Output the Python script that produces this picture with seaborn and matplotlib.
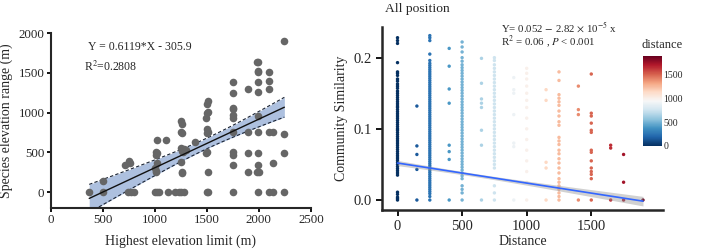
import numpy as np
import pandas as pd
import seaborn as sns
import matplotlib.pyplot as plt

# ---- left panel: highest elevation limit vs species elevation range ----
elev_limit = [370, 505, 505, 710, 755, 760, 740, 770, 800,
              1000, 1020, 1040, 1010, 1015, 1010, 1015, 1020, 1020, 1025, 1000,
              1105, 1130, 1190, 1230, 1280, 1250,
              1255, 1260, 1255, 1265, 1250, 1260, 1270, 1280, 1300, 1250, 1260, 1265, 1390,
              1500, 1515, 1510, 1495, 1505, 1500, 1510, 1505, 1500, 1510, 1515, 1505, 1490,
              1750, 1750, 1750, 1750, 1750, 1750, 1750, 1750, 1750, 1750, 1750,
              1895, 1895, 1895, 1895,
              1985, 1995, 1990, 1990, 1990, 1990, 1990, 1990, 1990, 1990, 1980, 2000, 1990,
              2100, 2100, 2100, 2100, 2100, 2133, 2133, 2133,
              2245, 2245, 2245, 2245]
elev_range = [0, 0, 140, 340, 390, 360, 0, 0, 0,
              0, 0, 0, 250, 270, 470, 500, 490, 360, 650, 300,
              650, 0, 0, 0, 0, 0,
              890, 860, 760, 740, 550, 520, 500, 540, 530, 380, 250, 240, 630,
              0, 0, 250, 490, 510, 740, 760, 790, 1000, 1010, 1140, 1110, 930,
              1390, 1250, 1060, 1040, 975, 935, 757, 500, 473, 347, 0,
              1297, 757, 494, 251,
              1640, 1640, 1525, 1505, 1380, 1260, 960, 757, 494, 347, 251, 251, 0,
              1505, 1400, 1297, 757, 0, 757, 0, 370,
              1895, 736, 494, 0]
fit_slope, fit_intercept = 0.6119, -305.9

# ---- right panel: distance vs community similarity ----
dist_levels = [0, 150, 250, 400, 500, 650, 750, 900, 1000, 1150, 1250, 1400, 1500, 1650, 1750, 1900]
sim_values = [
    [0.228, 0.224, 0.220, 0.193, 0.180, 0.178, 0.175, 0.170, 0.167, 0.163, 0.160, 0.157, 0.153,
     0.150, 0.147, 0.144, 0.141, 0.138, 0.135, 0.132, 0.130, 0.127, 0.124, 0.121, 0.118, 0.115,
     0.112, 0.109, 0.106, 0.103, 0.100, 0.098, 0.095, 0.092, 0.089, 0.086, 0.083, 0.080, 0.077,
     0.074, 0.071, 0.068, 0.065, 0.062, 0.059, 0.056, 0.053, 0.050, 0.047, 0.044, 0.041, 0.038,
     0.035, 0.011, 0.008, 0.004, 0.002, 0.0],
    [0.132, 0.076, 0.064, 0.043, 0.0],
    [0.231, 0.228, 0.224, 0.205, 0.196, 0.192, 0.189, 0.186, 0.183, 0.180, 0.177, 0.174, 0.171,
     0.168, 0.165, 0.162, 0.159, 0.156, 0.153, 0.150, 0.147, 0.144, 0.141, 0.138, 0.135, 0.132,
     0.129, 0.126, 0.123, 0.120, 0.117, 0.114, 0.111, 0.108, 0.105, 0.102, 0.099, 0.096, 0.093,
     0.090, 0.087, 0.084, 0.081, 0.078, 0.075, 0.072, 0.069, 0.066, 0.063, 0.060, 0.057, 0.054,
     0.051, 0.048, 0.045, 0.042, 0.039, 0.036, 0.033, 0.030, 0.027, 0.024, 0.021, 0.018, 0.015,
     0.012, 0.009, 0.005, 0.0],
    [0.213, 0.188, 0.156, 0.136, 0.077, 0.068, 0.057, 0.0],
    [0.222, 0.215, 0.208, 0.200, 0.195, 0.190, 0.186, 0.182, 0.178, 0.174, 0.170, 0.166, 0.162,
     0.158, 0.154, 0.150, 0.146, 0.142, 0.138, 0.134, 0.130, 0.126, 0.122, 0.118, 0.114, 0.110,
     0.106, 0.102, 0.098, 0.094, 0.090, 0.086, 0.082, 0.078, 0.074, 0.070, 0.066, 0.062, 0.058,
     0.054, 0.050, 0.046, 0.042, 0.038, 0.034, 0.030, 0.020, 0.015, 0.010, 0.0],
    [0.199, 0.164, 0.142, 0.136, 0.130, 0.098, 0.077, 0.0],
    [0.200, 0.196, 0.190, 0.185, 0.180, 0.175, 0.170, 0.165, 0.160, 0.155, 0.150, 0.145, 0.140,
     0.135, 0.130, 0.125, 0.120, 0.115, 0.110, 0.105, 0.100, 0.095, 0.090, 0.085, 0.080, 0.075,
     0.070, 0.065, 0.060, 0.055, 0.050, 0.045, 0.020, 0.010, 0.0],
    [0.172, 0.155, 0.150, 0.120, 0.080, 0.075, 0.0],
    [0.185, 0.178, 0.170, 0.160, 0.150, 0.140, 0.130, 0.115, 0.100, 0.085, 0.070, 0.055, 0.040,
     0.025, 0.0],
    [0.155, 0.140, 0.053, 0.045, 0.0],
    [0.180, 0.168, 0.148, 0.143, 0.138, 0.133, 0.125, 0.118, 0.110, 0.105, 0.088, 0.083, 0.078,
     0.070, 0.065, 0.058, 0.052, 0.045, 0.038, 0.030, 0.025, 0.020, 0.015, 0.010, 0.005, 0.0],
    [0.160, 0.127, 0.120, 0.0],
    [0.177, 0.122, 0.118, 0.108, 0.098, 0.095, 0.070, 0.067, 0.055, 0.045, 0.040, 0.036, 0.030, 0.0],
    [0.077, 0.073, 0.0],
    [0.064, 0.025, 0.0],
    [0.0],
]
sim_intercept, sim_slope = 0.052, -2.82e-5

rows = [(d, s) for d, col in zip(dist_levels, sim_values) for s in col]
df_sim = pd.DataFrame(rows, columns=['distance', 'similarity'])
df_elev = pd.DataFrame({'limit': elev_limit, 'range': elev_range})

sns.set_style('ticks')
plt.rcParams['font.family'] = ['Liberation Serif', 'DejaVu Serif']
plt.rcParams['mathtext.fontset'] = 'stix'

fig = plt.figure(figsize=(7.09, 2.52), dpi=100)
ax1 = fig.add_axes([0.0715, 0.1746, 0.367, 0.694])
ax2 = fig.add_axes([0.5388, 0.1667, 0.3963, 0.726])
cax = fig.add_axes([0.907, 0.421, 0.027, 0.357])

# left panel
x = np.array(elev_limit, float)
y = np.array(elev_range, float)
xs = np.linspace(x.min(), x.max(), 100)
resid = y - (fit_slope * x + fit_intercept)
n = len(x)
s = np.sqrt((resid ** 2).sum() / (n - 2))
se = s * np.sqrt(1 / n + (xs - x.mean()) ** 2 / ((x - x.mean()) ** 2).sum())
yfit = fit_slope * xs + fit_intercept
band = 1.5 * se
ax1.fill_between(xs, yfit - band, yfit + band, color='#adc0df', lw=0, zorder=1)
ax1.plot(xs, yfit - band, color='#1a2333', lw=0.8, ls=(0, (3, 2)), zorder=2)
ax1.plot(xs, yfit + band, color='#1a2333', lw=0.8, ls=(0, (3, 2)), zorder=2)
sns.scatterplot(data=df_elev, x='limit', y='range', color='#666666', s=30, linewidth=0,
                ax=ax1, zorder=3)
ax1.plot(xs, yfit, color='#111111', lw=1.0, zorder=4)
ax1.set_xlim(0, 2500)
ax1.set_ylim(-200, 2000)
ax1.set_xticks([0, 500, 1000, 1500, 2000, 2500])
ax1.set_yticks([0, 500, 1000, 1500, 2000])
ax1.set_xlabel('Highest elevation limit (m)', fontsize=10, labelpad=6)
ax1.set_ylabel('Species elevation range (m)', fontsize=10, labelpad=4)
ax1.tick_params(labelsize=9.3, width=1.3, length=3, pad=1.5, color='black')
ax1.text(354, 1823, 'Y = 0.6119*X - 305.9', fontsize=8.5, va='center')
ax1.text(316, 1572, r'R$^2$=0.2808', fontsize=8.5, va='center')
sns.despine(ax=ax1)
for sp in ['left', 'bottom']:
    ax1.spines[sp].set_linewidth(1.5)

# right panel
sns.scatterplot(data=df_sim, x='distance', y='similarity', hue='distance', palette='RdBu_r',
                hue_norm=(0, 1900), s=6, linewidth=0, legend=False, ax=ax2, zorder=2)
xd = np.linspace(0, 1900, 100)
yd = sim_intercept + sim_slope * xd
half = 0.0022 * np.sqrt(1 + ((xd - 600) / 450) ** 2)
ax2.fill_between(xd, yd - half, yd + half, color='#999999', alpha=0.45, lw=0, zorder=3)
ax2.plot(xd, yd, color='#3366ff', lw=1.2, zorder=4)
ax2.set_xlim(-120, 2055)
ax2.set_ylim(-0.014, 0.243)
ax2.set_xticks([0, 500, 1000, 1500])
ax2.set_yticks([0.0, 0.1, 0.2])
ax2.set_yticklabels(['0.0', '0.1', '0.2'])
ax2.set_xlabel('Distance', fontsize=10, labelpad=1)
ax2.set_ylabel('Community Similarity', fontsize=10, labelpad=4)
ax2.tick_params(labelsize=10.5, width=1.3, length=4, color='black')
sns.despine(ax=ax2)
for sp in ['left', 'bottom']:
    ax2.spines[sp].set_linewidth(1.8)
ax2.text(801, 0.2425, r'Y= 0.052 $-$ 2.82 $\times$ 10$^{-5}$ x', fontsize=7.8, va='center')
ax2.text(801, 0.2225, r'R$^2$ = 0.06 , $P$ < 0.001', fontsize=7.8, va='center')
fig.text(385 / 709, 1 - 9 / 252, 'All position', fontsize=9.7, va='center')

# colour bar
sm = plt.cm.ScalarMappable(cmap='RdBu_r', norm=plt.Normalize(0, 1900))
cb = fig.colorbar(sm, cax=cax)
cb.outline.set_visible(False)
cb.set_ticks([0, 500, 1000, 1500])
cb.ax.tick_params(labelsize=7, length=3, color='white', direction='in', pad=1)
fig.text(662 / 709, 1 - 45 / 252, 'distance', fontsize=9, ha='center', va='center')

fig.savefig('out.png', dpi=100)
